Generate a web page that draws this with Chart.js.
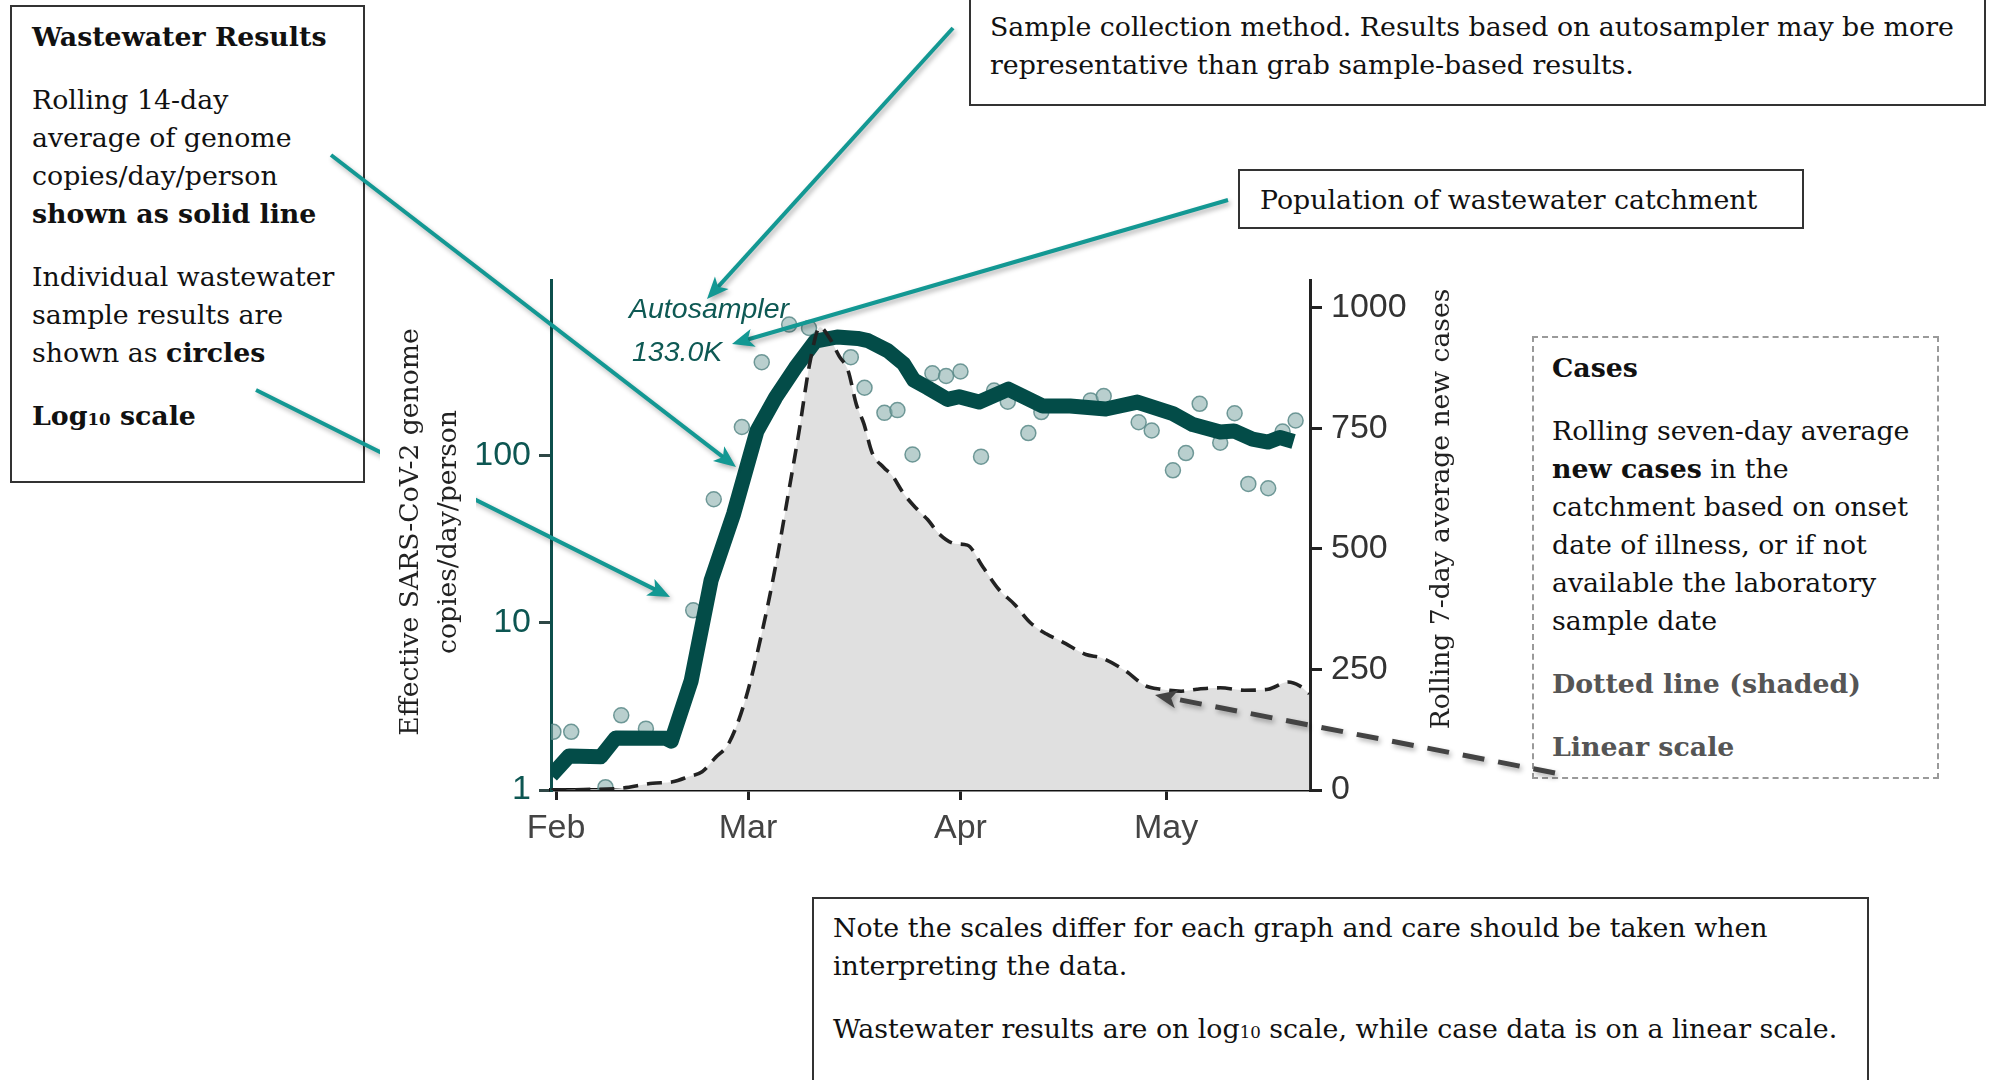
<!DOCTYPE html>
<html>
<head>
<meta charset="utf-8">
<title>Wastewater results</title>
<script src="https://cdn.jsdelivr.net/npm/chart.js@4.4.1/dist/chart.umd.min.js"></script>
<style>
  html, body { margin: 0; padding: 0; background: #fff; }
  body {
    width: 1995px; height: 1080px; position: relative; overflow: hidden;
    font-family: 'DejaVu Serif', serif; font-size: 26.8px; line-height: 38px; color: #111;
  }
  .box { position: absolute; box-sizing: border-box; border: 2px solid #333; white-space: nowrap; z-index: 1; }
  .box p { margin: 25px 0 0 0; }
  .box p:first-child { margin-top: 0; }
  .sub { font-size: 0.62em; }
  .grey { color: #555; }
  #chart { position: absolute; left: 0; top: 0; z-index: 2; pointer-events: none; }
</style>
</head>
<body>

<div class="box" style="left:10px; top:5px; width:355px; height:478px; padding:11px 0 0 20px;">
  <p><b>Wastewater Results</b></p>
  <p>Rolling 14-day<br>average of genome<br>copies/day/person<br><b>shown as solid line</b></p>
  <p>Individual wastewater<br>sample results are<br>shown as <b>circles</b></p>
  <p><b>Log<span class="sub">10</span> scale</b></p>
</div>

<div class="box" style="left:969px; top:-2px; width:1017px; height:108px; padding:8px 0 0 19px;">
  <p>Sample collection method. Results based on autosampler may be more<br>representative than grab sample-based results.</p>
</div>

<div class="box" style="left:1238px; top:169px; width:566px; height:60px; padding:10px 0 0 20px;">
  <p>Population of wastewater catchment</p>
</div>

<div class="box" style="left:1532px; top:336px; width:407px; height:443px; padding:11px 0 0 18px; border:2px dashed #9a9a9a;">
  <p><b>Cases</b></p>
  <p>Rolling seven-day average<br><b>new cases</b> in the<br>catchment based on onset<br>date of illness, or if not<br>available the laboratory<br>sample date</p>
  <p class="grey"><b>Dotted line (shaded)</b></p>
  <p class="grey"><b>Linear scale</b></p>
</div>

<div class="box" style="left:812px; top:897px; width:1057px; height:200px; padding:10px 0 0 19px;">
  <p>Note the scales differ for each graph and care should be taken when<br>interpreting the data.</p>
  <p>Wastewater results are on log<span class="sub">10</span> scale, while case data is on a linear scale.</p>
</div>

<canvas id="chart" width="1995" height="1080"></canvas>

<script>
// Axis ticks (x values are days since 1 Feb)
const monthTickDays = [0, 28, 59, 89];
const monthTickLabels = ['Feb', 'Mar', 'Apr', 'May'];
const logTicks = [1, 10, 100];
const caseTicks = [0, 250, 500, 750, 1000];

// Rolling 14-day average, genome copies/day/person
const avgDays = [-0.7, 1.9, 6.5, 8.7, 16.0, 16.8, 19.7, 22.6, 25.9, 29.3, 32.0, 34.9, 37.8, 41.0, 44.0, 45.5,
  48.4, 50.7, 52.2, 54.2, 57.1, 58.8, 61.7, 66.0, 71.0, 75.0, 80.2, 84.8, 90.0, 92.9, 96.9, 98.9,
  101.6, 103.9, 105.6, 107.6];
const avgValues = [1.22, 1.6, 1.58, 2.05, 2.04, 1.96, 4.5, 17.9, 45, 141, 223, 337, 486, 515, 505, 490,
  426, 356, 284, 256, 218, 226, 210, 251, 199, 199, 191, 210, 179, 154, 139, 141,
  126, 121, 129, 122];

// Individual samples
const sampleDays = [-0.4, 2.2, 7.2, 9.5, 13.1, 20.0, 23.0, 27.1, 30.0, 34.0, 36.9, 43.0, 45.0, 47.9, 49.8,
  52.0, 54.9, 56.9, 59.0, 62.0, 63.9, 65.9, 68.9, 70.8, 78.0, 79.9, 85.0, 86.9, 90.0, 91.9, 93.9,
  96.9, 99.0, 101.0, 103.9, 106.0, 107.9];
const sampleValues = [2.23, 2.23, 1.04, 2.8, 2.33, 11.9, 55, 149, 364, 611, 583, 390, 256, 181, 188,
  102, 312, 301, 320, 99, 246, 211, 137, 183, 215, 228, 159, 142, 82, 104, 205,
  120, 180, 68, 64, 140, 163];

// Rolling 7-day average new cases
const caseDays = [-0.7, 4.0, 9.3, 14.1, 17.0, 19.4, 21.3, 23.3, 25.2, 27.6, 30.0, 32.0, 33.9, 35.4, 37.1,
  38.5, 40.0, 41.3, 42.6, 43.8, 44.9, 46.1, 47.8, 49.0, 50.7, 52.5, 54.2, 55.9, 58.2, 60.0, 62.3,
  64.6, 66.9, 69.2, 71.5, 73.8, 77.3, 79.6, 83.1, 86.0, 88.3, 91.2, 93.5, 96.9, 100.4, 103.9,
  106.8, 108.5, 109.9];
const caseValues = [0, 1, 3.5, 14, 17, 28, 38, 68, 97, 187, 325, 463, 616, 740, 892,
  960, 935, 900, 870, 800, 760, 700, 669, 653, 615, 585, 561, 531, 511, 508, 462,
  416, 385, 347, 324, 308, 281, 274, 247, 216, 209, 205, 209, 212, 207, 209,
  224, 216, 200];

const toPoints = (days, values) => days.map((d, i) => ({ x: d, y: values[i] }));

const TEAL_DARK = '#034c48';
const ARROW_TEAL = '#139893';
const SERIF = "'DejaVu Serif', serif";
const SANS = "'Liberation Sans', Arial, sans-serif";

// Callout arrows (page pixels)
const arrows = [
  { x1: 953, y1: 28, x2: 707, y2: 299, color: ARROW_TEAL, width: 4, head: 22 },
  { x1: 1228, y1: 200, x2: 732, y2: 344, color: ARROW_TEAL, width: 4, head: 22 },
  { x1: 331, y1: 155, x2: 736, y2: 467, color: ARROW_TEAL, width: 4, head: 22 },
  { x1: 256, y1: 390, x2: 670, y2: 597, color: ARROW_TEAL, width: 4, head: 22 },
  { x1: 1555, y1: 773, x2: 1155, y2: 695, color: '#444', width: 5, head: 22, dash: [22, 14] }
];

function drawArrow(ctx, a) {
  const ang = Math.atan2(a.y2 - a.y1, a.x2 - a.x1);
  const c = Math.cos(ang), s = Math.sin(ang);
  const h = a.head, w = h * 0.42;
  ctx.save();
  ctx.strokeStyle = a.color;
  ctx.fillStyle = a.color;
  ctx.lineWidth = a.width;
  ctx.shadowColor = 'rgba(0,0,0,0.3)';
  ctx.shadowBlur = 5;
  ctx.shadowOffsetX = 2;
  ctx.shadowOffsetY = 3;
  ctx.setLineDash(a.dash || []);
  ctx.beginPath();
  ctx.moveTo(a.x1, a.y1);
  ctx.lineTo(a.x2 - c * h * 0.7, a.y2 - s * h * 0.7);
  ctx.stroke();
  ctx.setLineDash([]);
  ctx.beginPath();
  ctx.moveTo(a.x2, a.y2);
  ctx.lineTo(a.x2 - c * h - s * w, a.y2 - s * h + c * w);
  ctx.lineTo(a.x2 - c * h * 0.75, a.y2 - s * h * 0.75);
  ctx.lineTo(a.x2 - c * h + s * w, a.y2 - s * h - c * w);
  ctx.closePath();
  ctx.fill();
  ctx.restore();
}

function rotatedText(ctx, text, x, y) {
  ctx.save();
  ctx.translate(x, y);
  ctx.rotate(-Math.PI / 2);
  ctx.fillText(text, 0, 0);
  ctx.restore();
}

const overlayPlugin = {
  id: 'overlay',
  afterDraw(chart) {
    const ctx = chart.ctx;

    // sampler label
    ctx.save();
    ctx.fillStyle = '#0e5954';
    ctx.font = 'italic 28.5px ' + SANS;
    ctx.textAlign = 'left';
    ctx.textBaseline = 'alphabetic';
    ctx.fillText('Autosampler', 629, 318);
    ctx.fillText('133.0K', 632, 361);
    ctx.restore();

    arrows.forEach(a => drawArrow(ctx, a));

    // axis titles
    ctx.save();
    ctx.fillStyle = '#fff';
    ctx.fillRect(380, 322, 96, 420);
    ctx.fillStyle = '#222';
    ctx.font = '26.6px ' + SERIF;
    ctx.textAlign = 'center';
    ctx.textBaseline = 'middle';
    rotatedText(ctx, 'Effective SARS-CoV-2 genome', 411, 532);
    rotatedText(ctx, 'copies/day/person', 449, 532);
    rotatedText(ctx, 'Rolling 7-day average new cases', 1442, 509);
    ctx.restore();
  }
};

new Chart(document.getElementById('chart'), {
  type: 'line',
  data: {
    datasets: [
      {
        data: toPoints(caseDays, caseValues),
        yAxisID: 'yR',
        fill: 'origin',
        backgroundColor: '#e0e0e0',
        borderWidth: 0,
        pointRadius: 0,
        cubicInterpolationMode: 'monotone',
        order: 4
      },
      {
        data: toPoints(sampleDays, sampleValues),
        yAxisID: 'yL',
        showLine: false,
        pointRadius: 7.5,
        pointBackgroundColor: 'rgba(128,168,166,0.55)',
        pointBorderColor: 'rgba(90,138,136,0.85)',
        pointBorderWidth: 1.5,
        order: 3
      },
      {
        data: toPoints(avgDays, avgValues),
        yAxisID: 'yL',
        borderColor: TEAL_DARK,
        borderWidth: 15,
        borderJoinStyle: 'round',
        pointRadius: 0,
        tension: 0,
        fill: false,
        order: 2
      },
      {
        data: toPoints(caseDays, caseValues),
        yAxisID: 'yR',
        borderColor: '#222',
        borderWidth: 3.6,
        borderDash: [15, 9],
        pointRadius: 0,
        cubicInterpolationMode: 'monotone',
        fill: false,
        order: 1
      }
    ]
  },
  options: {
    responsive: false,
    animation: false,
    devicePixelRatio: 1,
    layout: { padding: { left: 401, right: 535, top: 280, bottom: 210 } },
    plugins: { legend: { display: false }, tooltip: { enabled: false } },
    scales: {
      x: {
        type: 'linear',
        min: -0.75,
        max: 110,
        afterBuildTicks: s => { s.ticks = monthTickDays.map(v => ({ value: v })); },
        afterFit: s => { s.height = 80; },
        ticks: {
          callback: v => monthTickLabels[monthTickDays.indexOf(v)],
          color: '#444',
          font: { family: SANS, size: 34 },
          padding: 8,
          maxRotation: 0,
          autoSkip: false
        },
        grid: { drawOnChartArea: false, tickLength: 10, color: '#222', lineWidth: 3 },
        border: { color: '#111', width: 3.5 }
      },
      yL: {
        type: 'logarithmic',
        position: 'left',
        min: 1,
        max: 1130,
        afterBuildTicks: s => { s.ticks = logTicks.map(v => ({ value: v })); },
        afterFit: s => { s.width = 150; },
        ticks: {
          callback: v => String(v),
          color: '#0d5652',
          font: { family: SANS, size: 34 },
          padding: 8
        },
        grid: { drawOnChartArea: false, tickLength: 12, color: '#2f4746', lineWidth: 3 },
        border: { color: '#0d4f4c', width: 3 }
      },
      yR: {
        type: 'linear',
        position: 'right',
        min: 0,
        max: 1058,
        afterBuildTicks: s => { s.ticks = caseTicks.map(v => ({ value: v })); },
        afterFit: s => { s.width = 150; },
        ticks: {
          callback: v => String(v),
          color: '#333',
          font: { family: SANS, size: 34 },
          padding: 9
        },
        grid: { drawOnChartArea: false, tickLength: 12, color: '#222', lineWidth: 3 },
        border: { color: '#222', width: 3 }
      }
    }
  },
  plugins: [overlayPlugin]
});
</script>
</body>
</html>
